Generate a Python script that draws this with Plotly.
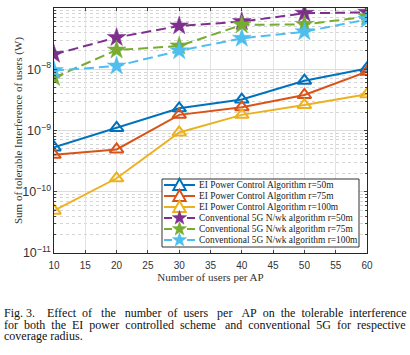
import math
import plotly.graph_objects as go

users = [10, 20, 30, 40, 50, 60]
ei_50 = [5.3e-10, 1.1e-9, 2.3e-9, 3.2e-9, 6.5e-9, 1.03e-8]
ei_75 = [4.0e-10, 4.9e-10, 1.8e-9, 2.4e-9, 3.8e-9, 9.1e-9]
ei_100 = [4.9e-11, 1.66e-10, 9.3e-10, 1.8e-9, 2.6e-9, 3.9e-9]
conv_50 = [1.75e-8, 3.3e-8, 5.1e-8, 6.0e-8, 8.2e-8, 8.5e-8]
conv_75 = [7.3e-9, 2.06e-8, 2.4e-8, 5.3e-8, 5.4e-8, 7.2e-8]
conv_100 = [9.5e-9, 1.13e-8, 2.0e-8, 3.2e-8, 4.1e-8, 6.5e-8]

names = [
    "EI Power Control Algorithm r=50m",
    "EI Power Control Algorithm r=75m",
    "EI Power Control Algorithm r=100m",
    "Conventional 5G N/wk algorithm r=50m",
    "Conventional 5G N/wk algorithm r=75m",
    "Conventional 5G N/wk algorithm r=100m",
]
values = [ei_50, ei_75, ei_100, conv_50, conv_75, conv_100]
colors = ["#0072BD", "#D95319", "#EDB120", "#7E2F8E", "#77AC30", "#4DBEEE"]
kinds = ["tri", "tri", "tri", "star", "star", "star"]

serif = "Liberation Serif, Times New Roman, serif"
sans = "Liberation Sans, Arial, sans-serif"

# plot area in pixels
L, R, T, B = 54, 367, 8, 253
W, H = 410, 355
PW, PH = R - L, B - T

def px(X):
    return (X - L) / PW

def py(Y):
    return (B - Y) / PH

fig = go.Figure()
for name, vals, col, kind in zip(names, values, colors, kinds):
    if kind == "tri":
        fig.add_trace(go.Scatter(
            x=users, y=vals, name=name, mode="lines+markers", showlegend=False,
            line=dict(color=col, width=2),
            marker=dict(symbol="triangle-up-open", size=12, color=col, line=dict(color=col, width=2)),
        ))
    else:
        fig.add_trace(go.Scatter(
            x=users, y=vals, name=name, mode="lines+markers", showlegend=False,
            line=dict(color=col, width=2, dash="10px,5px"),
            marker=dict(symbol="star", size=14, color=col, line=dict(color=col, width=0.5)),
        ))

shapes = []
annotations = []
# legend box
shapes.append(dict(type="rect", xref="paper", yref="paper", x0=px(162), x1=px(359), y0=py(247), y1=py(179),
                   fillcolor="white", line=dict(color="#333333", width=1), layer="above"))

def tri_path(r=6.5):
    pts = [(-r * 0.95, -r * 0.75), (r * 0.95, -r * 0.75), (0, r * 0.95)]
    return "M" + " L".join(f"{a:.2f},{b:.2f}" for a, b in pts) + " Z"

def star_path(ro=7.5, ri=3.0):
    pts = []
    for k in range(10):
        ang = math.pi / 2 + k * math.pi / 5
        r = ro if k % 2 == 0 else ri
        pts.append((r * math.cos(ang), r * math.sin(ang)))
    return "M" + " L".join(f"{a:.2f},{b:.2f}" for a, b in pts) + " Z"

ys = [185, 196, 207, 218, 229, 240]
for i, (name, col, kind) in enumerate(zip(names, colors, kinds)):
    yy = py(ys[i])
    if kind == "tri":
        shapes.append(dict(type="line", xref="paper", yref="paper", x0=px(164), x1=px(195), y0=yy, y1=yy,
                           line=dict(color=col, width=2), layer="above"))
        shapes.append(dict(type="path", xref="paper", yref="paper", xsizemode="pixel", ysizemode="pixel",
                           xanchor=px(179.5), yanchor=yy, path=tri_path(),
                           fillcolor="white", line=dict(color=col, width=2), layer="above"))
    else:
        for a, b in [(164, 172), (187, 195)]:
            shapes.append(dict(type="line", xref="paper", yref="paper", x0=px(a), x1=px(b), y0=yy, y1=yy,
                               line=dict(color=col, width=2), layer="above"))
        shapes.append(dict(type="path", xref="paper", yref="paper", xsizemode="pixel", ysizemode="pixel",
                           xanchor=px(179.5), yanchor=yy, path=star_path(),
                           fillcolor=col, line=dict(color=col, width=0.5), layer="above"))
    annotations.append(dict(text=name, xref="paper", yref="paper", x=px(197), y=yy, xanchor="left",
                            yanchor="middle", showarrow=False,
                            font=dict(family=serif, size=9.4, color="#222")))

# y-axis title
annotations.append(dict(text="Sum of tolerable Interference of users (W)", xref="paper", yref="paper",
                        x=px(18), y=py(131), xanchor="center", yanchor="middle", textangle=-90,
                        showarrow=False, font=dict(family=serif, size=11, color="#333")))

S = "&nbsp;"
def just(words, gaps):
    out = words[0]
    for w, g in zip(words[1:], gaps):
        out += S * g + w
    return out

line1 = just(["Fig.", "3.", "Effect", "of", "the", "number", "of", "users", "per", "AP", "on", "the",
              "tolerable", "interference"],
             [1, 4, 2, 3, 3, 2, 2, 3, 3, 2, 2, 2, 2])
line2 = just(["for", "both", "the", "EI", "power", "controlled", "scheme", "and", "conventional", "5G",
              "for", "respective"],
             [2, 2, 2, 2, 2, 2, 3, 2, 2, 2, 2])
caption = [line1, line2, "coverage radius."]
cap_y = [313, 324.5, 336]
for line, yc in zip(caption, cap_y):
    annotations.append(dict(text=line, xref="paper", yref="paper", x=px(2), y=py(yc),
                            xanchor="left", yanchor="middle", showarrow=False, align="left",
                            font=dict(family=serif, size=12, color="#111")))

fig.update_layout(
    width=W, height=H,
    margin=dict(l=L, r=W - R, t=T, b=H - B, autoexpand=False),
    paper_bgcolor="white", plot_bgcolor="white",
    showlegend=False,
    font=dict(family=sans, size=10, color="#262626"),
    shapes=shapes, annotations=annotations,
)
fig.update_xaxes(
    range=[10, 60], tick0=10, dtick=5, ticks="inside", ticklen=3, ticklabelstandoff=3,
    showline=True, linecolor="#262626", linewidth=1, mirror="ticks",
    showgrid=True, gridcolor="#e3e3e3", gridwidth=1, zeroline=False,
    title=dict(text="Number of users per AP", font=dict(family=serif, size=11, color="#333"), standoff=2),
    tickfont=dict(family=sans, size=10, color="#333"),
)
fig.update_yaxes(
    type="log", range=[-11, -7], dtick=1, exponentformat="power", showexponent="all",
    ticks="inside", ticklen=3,
    showline=True, linecolor="#262626", linewidth=1, mirror="ticks",
    showgrid=True, gridcolor="#dcdcdc", gridwidth=1, zeroline=False,
    minor=dict(showgrid=True, gridcolor="#d5d5d5", griddash="dot", ticks="inside", ticklen=2),
    tickfont=dict(family=sans, size=10, color="#333"),
)

fig.write_html("out.html", config={"displayModeBar": False},
               post_script="document.body.style.margin='0';document.body.style.overflow='hidden';")
